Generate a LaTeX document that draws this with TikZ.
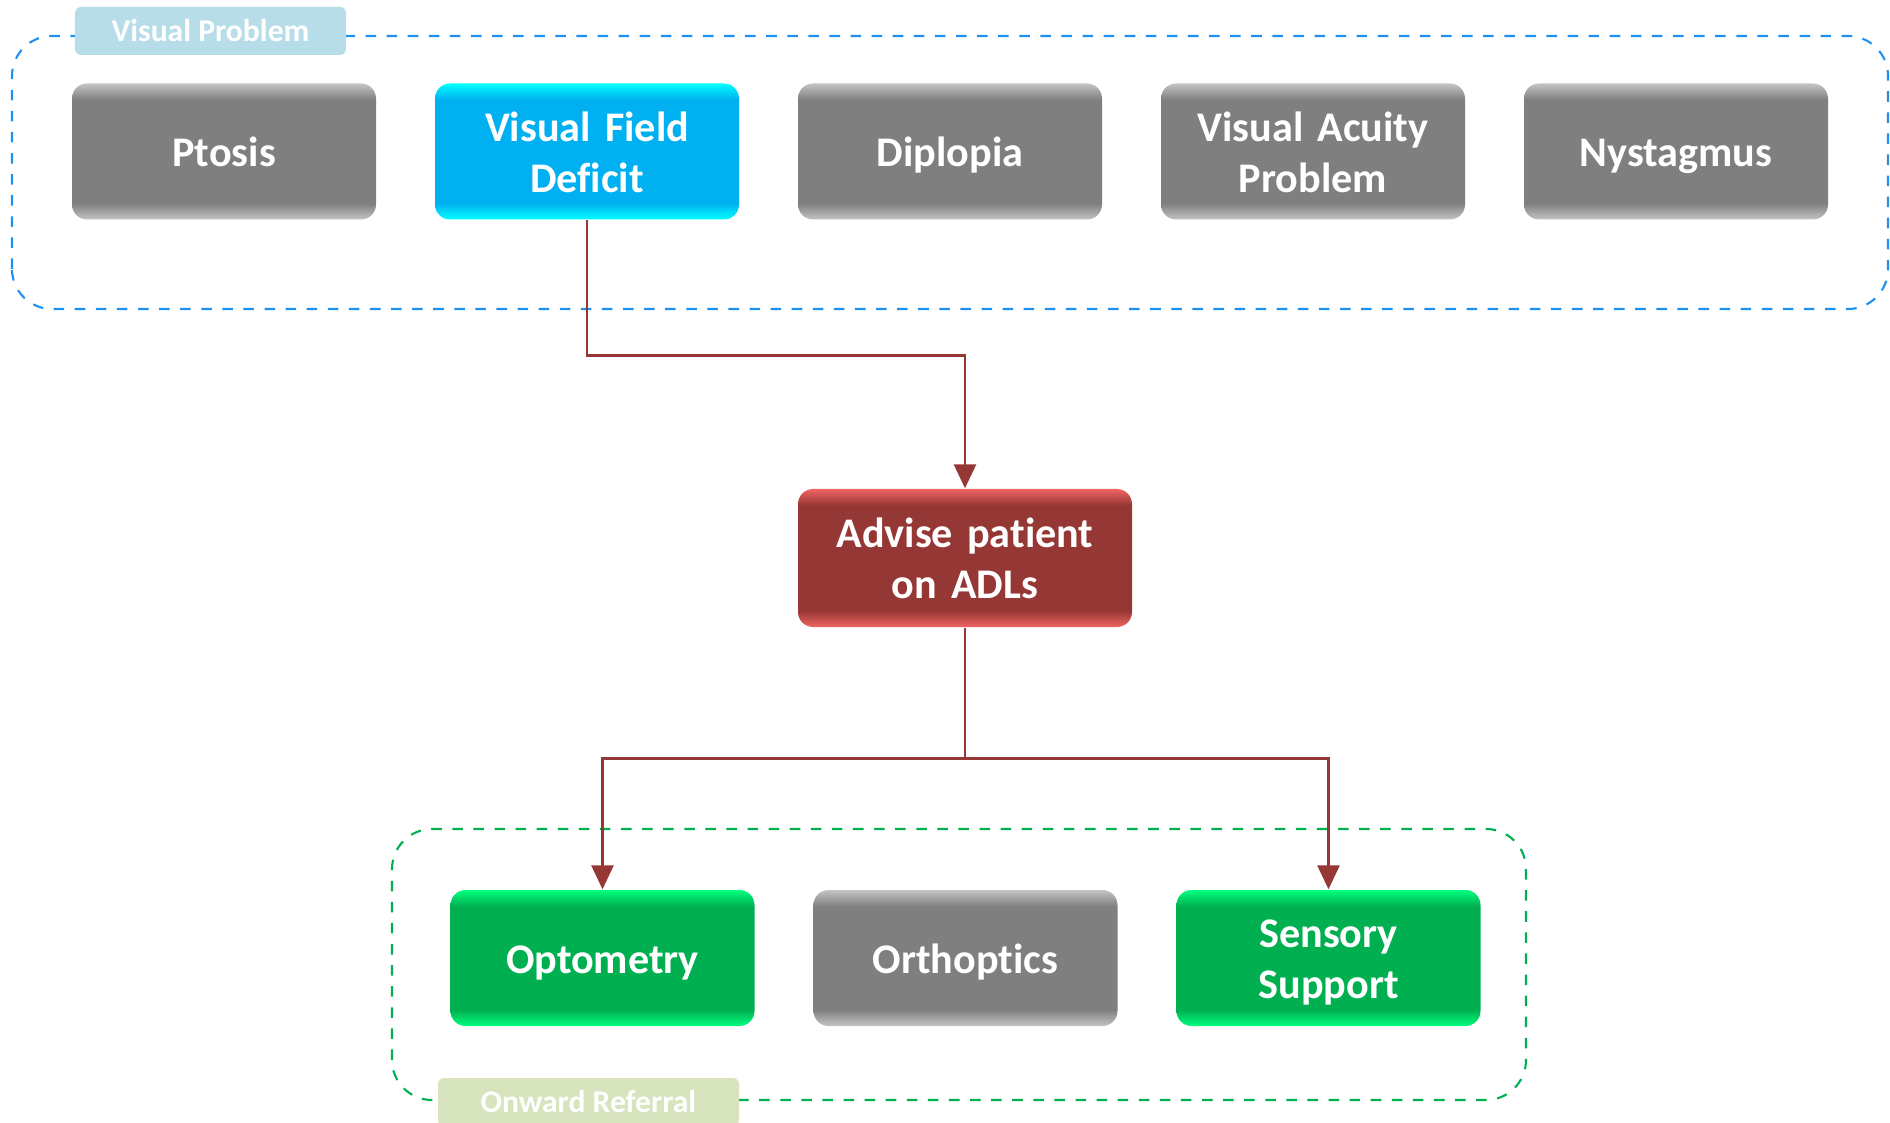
\documentclass[tikz,border=0pt]{standalone}
\usepackage{fontspec}
\setmainfont{Carlito}[Ligatures=NoCommon]
\usepackage{tikz}
\usetikzlibrary{positioning,arrows.meta}

\definecolor{midgray}{HTML}{7F7F7F}
\definecolor{edgegray}{HTML}{C4C4C4}
\definecolor{midcyan}{HTML}{00B0F0}
\definecolor{edgecyan}{HTML}{00FFFF}
\definecolor{midred}{HTML}{953735}
\definecolor{edgered}{HTML}{F06462}
\definecolor{midgreen}{HTML}{00B050}
\definecolor{edgegreen}{HTML}{00FF80}
\definecolor{linkred}{HTML}{953735}
\definecolor{visblue}{HTML}{1E90F0}
\definecolor{refgreen}{HTML}{00B050}
\definecolor{vistagfill}{HTML}{B7DDE8}
\definecolor{reftagfill}{HTML}{D7E4BD}

\pgfdeclareverticalshading{glossgray}{100bp}{color(0bp)=(edgegray); color(25bp)=(edgegray); color(31bp)=(midgray); color(69bp)=(midgray); color(75bp)=(edgegray); color(100bp)=(edgegray)}
\pgfdeclareverticalshading{glosscyan}{100bp}{color(0bp)=(edgecyan); color(25bp)=(edgecyan); color(31bp)=(midcyan); color(69bp)=(midcyan); color(75bp)=(edgecyan); color(100bp)=(edgecyan)}
\pgfdeclareverticalshading{glossred}{100bp}{color(0bp)=(edgered); color(25bp)=(edgered); color(31bp)=(midred); color(69bp)=(midred); color(75bp)=(edgered); color(100bp)=(edgered)}
\pgfdeclareverticalshading{glossgreen}{100bp}{color(0bp)=(edgegreen); color(25bp)=(edgegreen); color(31bp)=(midgreen); color(69bp)=(midgreen); color(75bp)=(edgegreen); color(100bp)=(edgegreen)}

\tikzset{
  item/.style={rounded corners=0.15cm,minimum width=3.04cm,minimum height=1.36cm,
    text width=2.7cm,align=center,text=white,shade,
    execute at begin node={\rule{0pt}{12.9pt}},execute at end node=\strut,
    font=\fontsize{12}{14.5}\selectfont\bfseries},
  grayitem/.style={item,shading=glossgray},
  cyanitem/.style={item,shading=glosscyan},
  reditem/.style={item,shading=glossred,minimum width=3.34cm,minimum height=1.38cm,text width=3.0cm},
  greenitem/.style={item,shading=glossgreen},
  tag/.style={rounded corners=0.06cm,minimum height=0.48cm,text=white,
    font=\fontsize{9}{10}\selectfont\bfseries},
  link/.style={linkred,line width=0.8pt},
}

\begin{document}
\begin{tikzpicture}[>={Triangle[length=2.4mm,width=2.2mm]},node distance=3.63cm]
  \useasboundingbox (0,0) rectangle (18.9,11.22);
  %% groups
  \draw[visblue,dashed,line width=0.6pt,rounded corners=0.4cm] (0.12,8.13) rectangle (18.88,10.86);
  \draw[refgreen,dashed,line width=0.6pt,rounded corners=0.4cm] (3.92,0.22) rectangle (15.26,2.93);
  \node[tag,fill=vistagfill,minimum width=2.71cm] (vp) at (2.105,10.91) {Visual Problem};
  \node[tag,fill=reftagfill,minimum width=3.01cm] (or) at (5.885,0.20) {Onward Referral};

  \node[grayitem] (1) at (2.24,9.705) {Ptosis};
  \node[cyanitem,right of=1] (2) {Visual Field\\Deficit};
  \node[grayitem,right of=2] (3) {Diplopia};
  \node[grayitem,right of=3] (4) {Visual Acuity\\Problem};
  \node[grayitem,right of=4] (5) {Nystagmus};

  \node[reditem] (6) at (9.65,5.64) {Advise patient\\on ADLs};

  \node[greenitem] (7) at (6.025,1.64) {Optometry};
  \node[grayitem,right of=7] (8) {Orthoptics};
  \node[greenitem,right of=8] (9) {Sensory\\Support};

  \draw[link,->] (2.south) -- ++(0,-1.35) -| (6.north);
  \draw[link,->] (6.south) -- ++(0,-1.31) -| (7.north);
  \draw[link,->] (6.south) -- ++(0,-1.31) -| (9.north);
\end{tikzpicture}
\end{document}
